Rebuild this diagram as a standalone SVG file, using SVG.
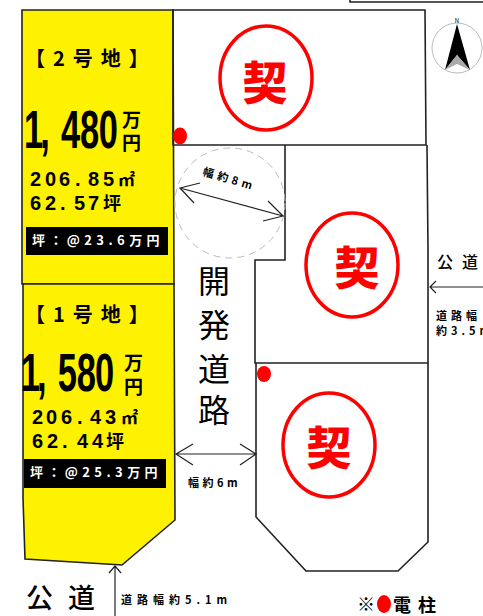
<svg xmlns="http://www.w3.org/2000/svg" width="483" height="616" viewBox="0 0 483 616">
<style>
text{font-family:"Noto Sans CJK JP","Liberation Sans",sans-serif;fill:#000}
.b{font-weight:700}
.ln{fill:none;stroke:#222;stroke-width:1.6}
.arr{fill:none;stroke:#222;stroke-width:1.2}
.ring{fill:none;stroke:#f00;stroke-width:3.5}
.kei{font-size:45px;font-weight:900;fill:#f00;text-anchor:middle}
.dot{fill:#f00}
.num{font-family:"Liberation Sans","Noto Sans CJK JP",sans-serif;font-weight:700}
.sp{font-size:20px}
.big{font-size:53px}
.blk{font-weight:700;font-size:13px;letter-spacing:4.4px;fill:#fff}
.sm{font-weight:700;font-size:11px}
.unit{font-weight:700;font-size:19px}
.hd{font-weight:700;font-size:20px;letter-spacing:8px}
.rd{font-size:32px}
</style>
<rect width="483" height="616" fill="#fff"/>
<g id="compass">
<circle cx="457" cy="48" r="25" fill="#fff" stroke="#bbb" stroke-width="1"/>
<polygon points="457,24 445,70 457,55 470,70" fill="#000"/>
<polygon points="457,55 445,70 457,64 470,70" fill="#aaa"/>
<text x="457" y="23" font-size="6" text-anchor="middle">N</text>
</g>
<g id="frame"><path class="ln" d="M350,0V2H483" stroke-width="2"/></g>
<g id="lot2">
<polygon points="22,10 173,10 174,284 22,284" fill="#fff200" stroke="#222" stroke-width="1.6"/>
<text x="25" y="66" class="hd">【2号地】</text>
<text transform="translate(0,148) scale(.65,1)" class="num big" x="37 62 94 123 152">1,480</text>
<text class="unit"><tspan x="122" y="127">万</tspan><tspan x="122" y="150">円</tspan></text>
<text class="num sp"><tspan y="186" x="30 45 59 75 88 103">206.85</tspan><tspan x="118" y="186" font-size="17">㎡</tspan><tspan y="210" x="30 45 60 74 88">62.57</tspan><tspan x="103" y="210" font-size="18">坪</tspan></text>
<rect x="26" y="227" width="142" height="28" fill="#000"/>
<text x="32" y="245" class="blk" style="fill:#fff">坪：@23.6万円</text>
</g>
<g id="lot1">
<polygon points="23,284 174,284 175,520 122,565 25,559 23,498" fill="#fff200" stroke="#222" stroke-width="1.6"/>
<text x="25" y="322" class="hd">【1号地】</text>
<text transform="translate(0,391) scale(.65,1)" class="num big" x="32 57 89 118 146">1,580</text>
<text class="unit"><tspan x="124" y="370">万</tspan><tspan x="124" y="394">円</tspan></text>
<text class="num sp"><tspan y="424" x="32 46 61 77 90 105">206.43</tspan><tspan x="121" y="424" font-size="17">㎡</tspan><tspan y="448" x="32 47 62 77 92">62.44</tspan><tspan x="106" y="448" font-size="18">坪</tspan></text>
<rect x="24" y="459" width="142" height="29" fill="#000"/>
<text x="30" y="477" class="blk" style="fill:#fff">坪：@25.3万円</text>
</g>
<g id="lot-north">
<path class="ln" d="M173,10H425L426,145H173Z"/>
<ellipse cx="266" cy="78" rx="46" ry="52" class="ring"/>
<text x="265" y="100" class="kei">契</text>
<ellipse class="dot" cx="180" cy="136" rx="7" ry="8.5"/>
</g>
<g id="lot-east">
<path class="ln" d="M285,145V260H255V363H428V250L427,145"/>
<ellipse cx="352" cy="265" rx="46" ry="52" class="ring"/>
<text x="357" y="285" class="kei">契</text>
</g>
<g id="lot-south">
<path class="ln" d="M256,363V517L306,571H398L428,542V363"/>
<ellipse cx="329" cy="445" rx="46" ry="52" class="ring"/>
<text x="329" y="465" class="kei">契</text>
<ellipse class="dot" cx="264" cy="374" rx="7" ry="8"/>
</g>
<g id="road">
<circle cx="230" cy="203" r="55" fill="none" stroke="#bbb" stroke-width="1" stroke-dasharray="7 5"/>
<text class="rd"><tspan x="198" y="293">開</tspan><tspan x="198" y="337">発</tspan><tspan x="198" y="381">道</tspan><tspan x="198" y="422">路</tspan></text>
<text transform="translate(202,175) rotate(16.5)" class="sm" letter-spacing="4">幅約8m</text>
<text x="188" y="487" class="sm" letter-spacing="3.5">幅約6m</text>
<text x="26 68" y="608" font-size="27" font-weight="500">公道</text>
<text x="121" y="604" class="sm" letter-spacing="5">道路幅約5.1m</text>
<text x="437 462" y="268" font-size="16" font-weight="500">公道</text>
<text x="436" y="320" class="sm" letter-spacing="4">道路幅</text>
<text x="436" y="335" class="sm" letter-spacing="4">約3.5m</text>
<text x="357" y="611" font-size="18">※</text>
<ellipse class="dot" cx="384" cy="604" rx="7" ry="9"/>
<text x="393 418" y="612" font-size="18" font-weight="700">電柱</text>
</g>
<g id="connectors">
<path class="arr" d="M180,188L283,216M200,183L180,188L194,203M268,201L283,216L263,221"/>
<path class="arr" d="M176,454H256M193,444L176,454L193,465M240,444L256,454L240,465"/>
<path class="arr" d="M115,616V566M109,573L115,566L121,573"/>
<path class="arr" d="M483,287H430M436,281L430,287L436,293"/>
</g>
</svg>
